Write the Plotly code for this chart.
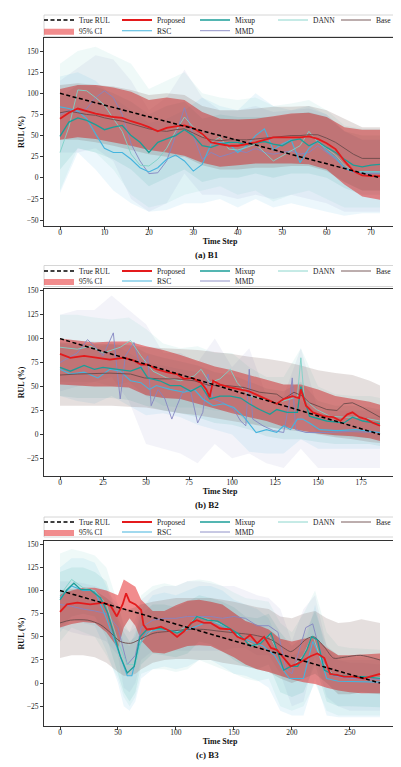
import plotly.graph_objects as go

# ======================= DATA =======================
# ---- (a) B1 ----
b1_true_t = [0, 72]
b1_true = [100, 0]
b1_t = list(range(0, 73, 2))
b1_proposed = [70, 77, 82, 79, 76, 74, 72, 71, 67, 64, 60, 55, 59, 61, 62, 59, 52, 42, 40, 38, 38, 40, 42, 45, 48, 48, 48, 48, 49, 46, 41, 34, 20, 8, 3, 2, 2]
b1_base = [77, 79, 77, 75, 74, 71, 69, 67, 64, 61, 58, 56, 55, 57, 58, 53, 48, 45, 44, 45, 45, 45, 46, 47, 48, 49, 50, 50, 51, 51, 47, 42, 35, 28, 23, 23, 23]
b1_mixup = [49, 66, 71, 68, 63, 57, 60, 62, 50, 42, 30, 42, 46, 50, 57, 50, 38, 36, 40, 42, 42, 39, 41, 43, 40, 38, 44, 46, 38, 43, 36, 30, 22, 15, 13, 15, 16]
b1_dann = [30, 60, 104, 103, 95, 86, 70, 55, 28, 15, 14, 22, 35, 55, 72, 60, 50, 42, 48, 34, 33, 36, 40, 30, 20, 26, 32, 38, 55, 42, 35, 27, 15, 8, 7, 7, 7]
b1_rsc = [84, 82, 79, 70, 52, 35, 30, 30, 22, 12, 7, 12, 22, 27, 20, 8, 16, 40, 42, 40, 30, 38, 50, 58, 33, 40, 45, 18, 35, 44, 32, 24, 12, 7, 7, 7, 7]
b1_mmd = [75, 80, 78, 82, 95, 103, 95, 75, 40, 20, 5, 6, 20, 50, 83, 50, 22, 30, 25, 28, 32, 30, 35, 30, 28, 30, 32, 28, 30, 38, 30, 22, 12, 7, 5, 5, 5]

b1_bt = list(range(0, 73, 4))
b1_proposed_hi = [105, 110, 110, 107, 102, 92, 95, 92, 78, 70, 69, 70, 73, 76, 77, 72, 60, 57, 57]
b1_proposed_lo = [45, 48, 46, 42, 38, 33, 30, 26, 18, 13, 15, 17, 17, 17, 16, 10, -8, -22, -26]
b1_base_hi = [110, 112, 110, 108, 104, 98, 100, 98, 85, 80, 80, 82, 84, 84, 85, 80, 70, 60, 60]
b1_base_lo = [45, 45, 42, 38, 33, 28, 25, 25, 15, 10, 10, 12, 12, 14, 14, 8, -5, -15, -15]
b1_mixup_hi = [95, 110, 108, 100, 90, 75, 85, 90, 70, 75, 72, 72, 72, 75, 78, 72, 55, 50, 50]
b1_mixup_lo = [10, 35, 30, 22, 10, -10, 0, 10, -5, 0, 0, 5, 0, 5, 5, 0, -12, -20, -20]
b1_dann_hi = [135, 150, 155, 145, 135, 105, 115, 125, 100, 95, 92, 95, 85, 88, 92, 80, 62, 58, 58]
b1_dann_lo = [-15, 35, 30, 10, -20, -35, -30, -20, -15, -10, -20, -15, -28, -20, -15, -25, -35, -35, -35]
b1_rsc_hi = [120, 125, 115, 95, 80, 65, 70, 80, 95, 85, 80, 100, 85, 80, 85, 75, 55, 45, 45]
b1_rsc_lo = [-18, 30, 10, -15, -30, -40, -38, -30, -30, -25, -35, -25, -35, -30, -35, -40, -45, -42, -42]
b1_mmd_hi = [115, 130, 145, 140, 115, 80, 95, 128, 95, 80, 80, 85, 78, 80, 82, 75, 55, 45, 45]
b1_mmd_lo = [30, 30, 35, 20, -25, -40, -30, 5, -20, -20, -25, -20, -25, -20, -25, -30, -40, -40, -40]

# ---- (b) B2 ----
b2_true_t = [0, 186]
b2_true = [100, 0]
b2_proposed_t = [0, 6, 14, 22, 29, 37, 43, 47, 51, 56, 62, 68, 72, 77, 82, 85, 87, 89, 93, 99, 105, 110, 116, 122, 126, 130, 135, 139, 140, 143, 147, 153, 159, 163, 167, 170, 174, 178, 182, 186]
b2_proposed = [84, 80, 82, 80, 78, 80, 77, 73, 73, 68, 65, 63, 58, 59, 54, 47, 39, 56, 52, 49, 47, 45, 40, 35, 32, 37, 40, 38, 47, 30, 23, 19, 18, 14, 21, 23, 18, 16, 12, 9]
b2_base_t = [0, 10, 29, 41, 49, 58, 68, 78, 87, 97, 107, 116, 126, 130, 136, 141, 145, 155, 161, 165, 170, 176, 186]
b2_base = [62, 63, 64, 63, 59, 58, 58, 56, 51, 51, 49, 44, 42, 37, 44, 40, 33, 26, 25, 32, 33, 28, 18]
b2_mixup_t = [0, 6, 14, 20, 25, 33, 41, 47, 51, 58, 64, 70, 76, 82, 87, 93, 99, 105, 110, 116, 122, 126, 132, 138, 140, 145, 155, 165, 170, 176, 186]
b2_mixup = [70, 66, 72, 68, 70, 68, 66, 70, 59, 56, 51, 51, 45, 51, 37, 40, 40, 38, 32, 26, 21, 26, 23, 23, 50, 19, 14, 12, 18, 14, 11]
b2_dann_t = [0, 10, 18, 25, 35, 41, 47, 54, 62, 70, 78, 82, 87, 93, 99, 103, 110, 118, 126, 134, 138, 140, 142, 149, 157, 165, 174, 186]
b2_dann = [91, 89, 92, 85, 91, 98, 82, 66, 59, 56, 61, 68, 54, 58, 68, 54, 40, 37, 33, 37, 40, 80, 37, 26, 19, 18, 18, 14]
b2_rsc_t = [0, 6, 14, 22, 29, 35, 41, 47, 52, 56, 64, 72, 78, 83, 89, 95, 101, 107, 114, 120, 126, 130, 134, 138, 141, 145, 151, 161, 172, 186]
b2_rsc = [68, 63, 65, 59, 68, 66, 56, 54, 47, 51, 47, 44, 47, 37, 30, 32, 28, 18, 2, 5, 2, 9, 5, 16, 16, 12, 5, 4, 5, 2]
b2_mmd_t = [0, 5, 10, 16, 20, 25, 31, 33, 35, 38, 43, 47, 51, 53, 57, 61, 65, 68, 72, 76, 80, 83, 86, 89, 95, 101, 105, 108, 110, 112, 118, 124, 130, 133, 135, 137, 143, 155, 168, 186]
b2_mmd = [75, 80, 85, 99, 92, 82, 106, 70, 37, 82, 96, 68, 82, 30, 47, 37, 16, 30, 47, 44, 12, 23, 63, 37, 33, 26, 14, 9, 68, 16, 9, 4, 2, 30, 59, 5, 2, 2, 3, 2]

b2_bt = [0, 10, 20, 30, 40, 50, 60, 70, 80, 90, 100, 110, 120, 130, 140, 150, 160, 170, 180, 186]
b2_proposed_hi = [100, 98, 96, 97, 97, 92, 88, 83, 77, 71, 67, 62, 57, 52, 52, 47, 40, 37, 34, 31]
b2_proposed_lo = [52, 51, 50, 50, 49, 41, 38, 37, 32, 27, 22, 18, 14, 8, 4, 1, -1, -2, -4, -7]
b2_base_hi = [96, 95, 94, 94, 93, 91, 90, 89, 88, 86, 84, 81, 79, 76, 72, 67, 64, 62, 56, 51]
b2_base_lo = [30, 30, 30, 30, 29, 28, 25, 22, 20, 17, 14, 11, 8, 5, 3, 0, -3, -5, -8, -9]
b2_mixup_hi = [100, 98, 97, 96, 95, 85, 80, 76, 72, 65, 62, 55, 48, 45, 55, 35, 30, 30, 28, 26]
b2_mixup_lo = [40, 38, 38, 38, 36, 30, 25, 22, 18, 12, 10, 5, -2, -5, -5, -8, -10, -10, -10, -12]
b2_dann_hi = [125, 125, 122, 120, 122, 110, 95, 90, 92, 85, 85, 70, 60, 60, 90, 50, 42, 40, 40, 38]
b2_dann_lo = [55, 55, 55, 50, 55, 40, 30, 28, 28, 25, 25, 12, 8, 5, 20, 2, -2, -3, -4, -5]
b2_rsc_hi = [95, 92, 90, 95, 85, 75, 72, 68, 65, 55, 50, 30, 25, 25, 35, 22, 20, 20, 18, 18]
b2_rsc_lo = [40, 35, 32, 40, 30, 20, 22, 18, 10, 5, 0, -18, -20, -20, -5, -15, -15, -15, -15, -15]
b2_mmd_hi = [125, 130, 130, 145, 130, 115, 85, 85, 75, 100, 70, 90, 40, 40, 90, 25, 25, 25, 25, 25]
b2_mmd_lo = [45, 50, 55, 60, 35, -10, -15, -20, -30, -10, -25, -20, -30, -35, -15, -35, -35, -35, -35, -35]

# ---- (c) B3 ----
b3_true_t = [0, 276]
b3_true = [100, 0]
b3_proposed_t = [0, 6, 15, 26, 38, 44, 49, 54, 57, 60, 65, 70, 72, 75, 81, 87, 95, 101, 107, 113, 118, 124, 130, 138, 147, 153, 159, 164, 170, 176, 182, 187, 193, 199, 205, 210, 216, 222, 228, 233, 239, 245, 253, 262, 268, 276]
b3_proposed = [77, 85, 87, 85, 87, 83, 72, 85, 97, 88, 85, 79, 63, 58, 59, 61, 56, 50, 56, 65, 68, 65, 65, 59, 58, 50, 47, 52, 43, 50, 38, 36, 27, 18, 21, 25, 29, 32, 27, 10, 9, 7, 7, 5, 7, 10]
b3_mixup_t = [0, 6, 12, 18, 26, 35, 41, 46, 52, 58, 64, 69, 75, 84, 92, 101, 110, 118, 127, 136, 144, 153, 159, 164, 173, 182, 187, 193, 199, 205, 213, 217, 222, 228, 236, 250, 262, 276]
b3_mixup = [90, 101, 108, 101, 101, 92, 76, 54, 29, 11, 18, 50, 58, 59, 58, 54, 59, 72, 68, 67, 61, 54, 47, 40, 43, 54, 36, 14, 18, 18, 36, 50, 47, 14, 9, 7, 7, 5]
b3_dann_t = [0, 10, 20, 30, 40, 50, 58, 65, 70, 80, 90, 100, 110, 118, 130, 140, 150, 160, 170, 180, 190, 200, 210, 218, 225, 235, 250, 276]
b3_dann = [95, 112, 103, 100, 85, 45, 20, 20, 45, 58, 58, 55, 62, 72, 68, 63, 56, 45, 40, 52, 30, 17, 30, 52, 25, 10, 7, 6]
b3_rsc_t = [0, 10, 20, 30, 40, 50, 58, 62, 68, 75, 85, 95, 105, 115, 125, 135, 145, 155, 165, 175, 185, 192, 198, 210, 218, 224, 230, 240, 276]
b3_rsc = [92, 105, 100, 100, 70, 35, 8, 8, 40, 55, 58, 57, 55, 60, 65, 65, 58, 50, 45, 40, 30, 15, 5, 5, 45, 30, 5, 2, 1]
b3_mmd_t = [0, 10, 20, 30, 40, 50, 58, 65, 70, 80, 90, 100, 110, 120, 130, 140, 150, 160, 170, 180, 188, 195, 200, 205, 212, 218, 222, 228, 235, 250, 276]
b3_mmd = [85, 83, 80, 78, 75, 60, 20, 30, 60, 68, 70, 70, 72, 72, 72, 70, 72, 70, 62, 62, 55, 15, 10, 30, 60, 64, 45, 20, 8, 5, 4]
b3_base_t = [0, 9, 24, 35, 44, 52, 61, 70, 81, 95, 110, 124, 138, 153, 167, 182, 193, 199, 205, 213, 219, 228, 236, 245, 259, 276]
b3_base = [65, 68, 68, 63, 54, 45, 43, 48, 54, 56, 58, 58, 56, 54, 52, 47, 38, 34, 39, 48, 50, 39, 27, 28, 30, 25]

b3_bt = [0, 10, 20, 30, 40, 50, 55, 60, 65, 70, 80, 90, 100, 110, 120, 130, 140, 150, 160, 170, 180, 190, 200, 210, 220, 230, 240, 250, 260, 276]
b3_proposed_hi = [96, 100, 103, 103, 100, 95, 112, 108, 104, 90, 78, 78, 84, 89, 90, 88, 85, 76, 67, 63, 58, 48, 45, 48, 49, 38, 30, 30, 31, 32]
b3_proposed_lo = [60, 64, 66, 65, 55, 38, 60, 70, 62, 46, 33, 32, 36, 40, 41, 40, 34, 28, 20, 15, 12, 8, 4, 1, -1, -5, -8, -10, -11, -11]
b3_base_hi = [100, 102, 102, 100, 92, 82, 80, 80, 82, 85, 88, 90, 92, 92, 92, 92, 90, 88, 85, 82, 80, 72, 70, 75, 78, 70, 65, 66, 69, 65]
b3_base_lo = [27, 30, 30, 28, 22, 12, 8, 8, 10, 15, 22, 25, 26, 26, 25, 25, 22, 20, 18, 15, 12, 5, 0, 5, 10, 0, -12, -12, -10, -12]
b3_mixup_hi = [120, 125, 125, 120, 110, 70, 55, 45, 50, 75, 85, 85, 82, 88, 95, 92, 88, 82, 72, 70, 75, 55, 40, 50, 78, 40, 30, 28, 28, 26]
b3_mixup_lo = [60, 72, 75, 72, 50, 10, -10, -20, -10, 20, 32, 30, 28, 32, 45, 42, 35, 25, 18, 15, 20, -10, -15, -10, 20, -20, -25, -25, -25, -26]
b3_dann_hi = [140, 145, 142, 138, 125, 85, 65, 55, 60, 95, 105, 108, 105, 110, 112, 110, 105, 98, 92, 90, 88, 65, 55, 75, 100, 55, 40, 38, 37, 36]
b3_dann_lo = [45, 60, 55, 50, 30, 5, -15, -25, -15, 10, 15, 15, 12, 15, 25, 20, 15, 10, 5, 2, 5, -25, -30, -25, 0, -30, -35, -35, -35, -35]
b3_rsc_hi = [125, 135, 135, 130, 105, 65, 45, 40, 55, 80, 95, 98, 95, 100, 105, 105, 100, 90, 85, 80, 70, 40, 30, 35, 85, 30, 25, 25, 25, 25]
b3_rsc_lo = [55, 70, 65, 62, 35, 0, -25, -30, -20, 5, 15, 18, 15, 18, 25, 25, 18, 10, 8, 3, -5, -30, -35, -35, 5, -35, -37, -37, -37, -37]
b3_mmd_hi = [110, 110, 108, 105, 100, 85, 60, 55, 70, 90, 100, 105, 105, 110, 110, 108, 105, 105, 100, 95, 92, 80, 45, 80, 95, 40, 25, 22, 22, 20]
b3_mmd_lo = [60, 55, 52, 50, 45, 30, -5, -10, 0, 25, 35, 35, 35, 35, 35, 35, 35, 38, 38, 30, 30, 10, -25, -20, 30, -15, -25, -30, -30, -30]

captions = ["(a) B1", "(b) B2", "(c) B3"]

# ======================= STYLE =======================
OFF = 8                       # page margin around the figure (px)
W, H = 401 - OFF, 767 - OFF   # figure size so that it ends at the window edge
FONT = "Liberation Serif"


def fx(p):   # window px -> paper x
    return (p - OFF) / W


def fy(p):   # window px -> paper y
    return 1 - (p - OFF) / H


C = dict(true="#000000", proposed="#e41a1c", mixup="#1b9e98", dann="#7fd1c7",
         base="#6b4b4b", rsc="#45b4de", mmd="#8486c2")
FILL = dict(proposed="rgba(228,26,28,0.50)", mixup="rgba(27,158,152,0.10)",
            dann="rgba(127,209,199,0.12)", rsc="rgba(69,180,222,0.10)",
            mmd="rgba(139,141,200,0.10)", base="rgba(110,80,70,0.18)")
WIDTH = dict(true=1.5, proposed=1.8, mixup=1.3, dann=0.9, base=0.9, rsc=1.1, mmd=0.9)
NAMES = dict(true="True RUL", proposed="Proposed", mixup="Mixup", dann="DANN",
             base="Base", rsc="RSC", mmd="MMD")
ROW1 = ["true", "proposed", "mixup", "dann"]
ROW2 = ["ci", "rsc", "mmd"]

panels = [
    dict(true=(b1_true_t, b1_true), proposed=(b1_t, b1_proposed), base=(b1_t, b1_base),
         mixup=(b1_t, b1_mixup), dann=(b1_t, b1_dann), rsc=(b1_t, b1_rsc), mmd=(b1_t, b1_mmd),
         bt=b1_bt,
         bands=dict(base=(b1_base_lo, b1_base_hi), mmd=(b1_mmd_lo, b1_mmd_hi),
                    rsc=(b1_rsc_lo, b1_rsc_hi), dann=(b1_dann_lo, b1_dann_hi),
                    mixup=(b1_mixup_lo, b1_mixup_hi), proposed=(b1_proposed_lo, b1_proposed_hi)),
         xr=[-3.6, 75.6], yr=[-57, 165.5], dx=10,
         top=38, bottom=226, leg_rows=(20, 30.7), frame=(15, 36.7), cap=254.5),
    dict(true=(b2_true_t, b2_true), proposed=(b2_proposed_t, b2_proposed), base=(b2_base_t, b2_base),
         mixup=(b2_mixup_t, b2_mixup), dann=(b2_dann_t, b2_dann), rsc=(b2_rsc_t, b2_rsc), mmd=(b2_mmd_t, b2_mmd),
         bt=b2_bt,
         bands=dict(base=(b2_base_lo, b2_base_hi), mmd=(b2_mmd_lo, b2_mmd_hi),
                    rsc=(b2_rsc_lo, b2_rsc_hi), dann=(b2_dann_lo, b2_dann_hi),
                    mixup=(b2_mixup_lo, b2_mixup_hi), proposed=(b2_proposed_lo, b2_proposed_hi)),
         xr=[-9.3, 195.3], yr=[-43.1, 151.8], dx=25,
         top=289, bottom=475.7, leg_rows=(271, 281), frame=(265.5, 286.5), cap=504.5),
    dict(true=(b3_true_t, b3_true), proposed=(b3_proposed_t, b3_proposed), base=(b3_base_t, b3_base),
         mixup=(b3_mixup_t, b3_mixup), dann=(b3_dann_t, b3_dann), rsc=(b3_rsc_t, b3_rsc), mmd=(b3_mmd_t, b3_mmd),
         bt=b3_bt,
         bands=dict(base=(b3_base_lo, b3_base_hi), mmd=(b3_mmd_lo, b3_mmd_hi),
                    rsc=(b3_rsc_lo, b3_rsc_hi), dann=(b3_dann_lo, b3_dann_hi),
                    mixup=(b3_mixup_lo, b3_mixup_hi), proposed=(b3_proposed_lo, b3_proposed_hi)),
         xr=[-13.8, 289.8], yr=[-46.7, 153.9], dx=50,
         top=540.7, bottom=726.3, leg_rows=(522, 532), frame=(517, 537), cap=755),
]

fig = go.Figure()
layout = dict(width=W, height=H, margin=dict(l=0, r=0, t=0, b=0, autoexpand=False),
              paper_bgcolor="white", plot_bgcolor="white",
              font=dict(family=FONT, size=7.5, color="#222"), shapes=[], annotations=[])

axfont = dict(family=FONT, size=7.5, color="#222")
titlefont = dict(family=FONT, size=8, color="#111", weight="bold")
legfont = dict(family=FONT, size=7.5, color="#222")
x0p, x1p = fx(44), fx(396)
LEG_X = 39      # left edge of the legend rows (window px)
BASE_X = 336    # left edge of the "Base" legend (window px)

for i, p in enumerate(panels):
    sfx = "" if i == 0 else str(i + 1)
    xa, ya = "x" + sfx, "y" + sfx
    legA = "legend" + ("" if i == 0 else str(3 * i + 1))
    legB = "legend" + str(3 * i + 2)
    legC = "legend" + str(3 * i + 3)

    # confidence bands
    for key in ["mmd", "rsc", "dann", "mixup", "proposed", "base"]:
        lo, hi = p["bands"][key]
        t = p["bt"]
        show = key == "proposed"
        fig.add_trace(go.Scatter(
            x=list(t) + list(t)[::-1], y=list(hi) + list(lo)[::-1],
            fill="toself", fillcolor=FILL[key], mode="lines",
            line=dict(width=0, color=FILL[key]),
            name="95% CI", showlegend=show, legend=legC, legendrank=1,
            xaxis=xa, yaxis=ya, hoverinfo="skip"))

    # lines
    for key in ["mmd", "rsc", "dann", "base", "mixup", "proposed", "true"]:
        t, v = p[key]
        if key in ROW1:
            leg, rank = legA, ROW1.index(key) + 1
        elif key == "base":
            leg, rank = legB, 1
        else:
            leg, rank = legC, ROW2.index(key) + 1
        line = dict(color=C[key], width=WIDTH[key])
        if key == "true":
            line["dash"] = "4px,2.5px"
        if key == "base" and i == 2:
            line["shape"] = "spline"
            line["smoothing"] = 0.8
        fig.add_trace(go.Scatter(x=t, y=v, mode="lines", line=line, name=NAMES[key],
                                 legend=leg, legendrank=rank, xaxis=xa, yaxis=ya,
                                 hoverinfo="skip"))

    ydom = [fy(p["bottom"]), fy(p["top"])]
    layout["xaxis" + sfx] = dict(
        domain=[x0p, x1p], range=p["xr"], dtick=p["dx"], tick0=0, anchor=ya,
        showline=True, mirror=True, linecolor="#333", linewidth=1,
        ticks="outside", ticklen=3, tickwidth=0.8, tickcolor="#333",
        ticklabelstandoff=-4,
        showgrid=False, zeroline=False, tickfont=axfont, automargin=False,
        title=dict(text="Time Step", font=titlefont, standoff=1))
    layout["yaxis" + sfx] = dict(
        domain=ydom, range=p["yr"], dtick=25, tick0=0, anchor=xa,
        showline=True, mirror=True, linecolor="#333", linewidth=1,
        ticks="outside", ticklen=3, tickwidth=0.8, tickcolor="#333",
        showgrid=False, zeroline=False, tickfont=axfont, automargin=False,
        title=dict(text="RUL (%)", font=titlefont, standoff=0))

    r1, r2 = p["leg_rows"]
    for leg, xpx, yrow in ((legA, LEG_X, r1), (legB, BASE_X, r1), (legC, LEG_X, r2)):
        layout[leg] = dict(orientation="h", x=fx(xpx), xanchor="left",
                           y=fy(yrow), yanchor="middle",
                           bgcolor="rgba(0,0,0,0)", borderwidth=0, font=legfont,
                           entrywidth=0 if leg == legB else 33, entrywidthmode="pixels",
                           itemwidth=30, traceorder="normal", tracegroupgap=0)

    f0, f1 = p["frame"]
    layout["shapes"].append(dict(type="rect", xref="paper", yref="paper",
                                 x0=x0p, x1=x1p, y0=fy(f1), y1=fy(f0),
                                 line=dict(color="#cccccc", width=0.8), layer="below"))
    layout["annotations"].append(dict(text=captions[i], xref="paper", yref="paper",
                                      x=fx(207), y=fy(p["cap"]), showarrow=False,
                                      xanchor="center", yanchor="middle",
                                      font=dict(family=FONT, size=9, color="#111", weight="bold")))

fig.update_layout(**layout)
fig.write_html("out.html")
